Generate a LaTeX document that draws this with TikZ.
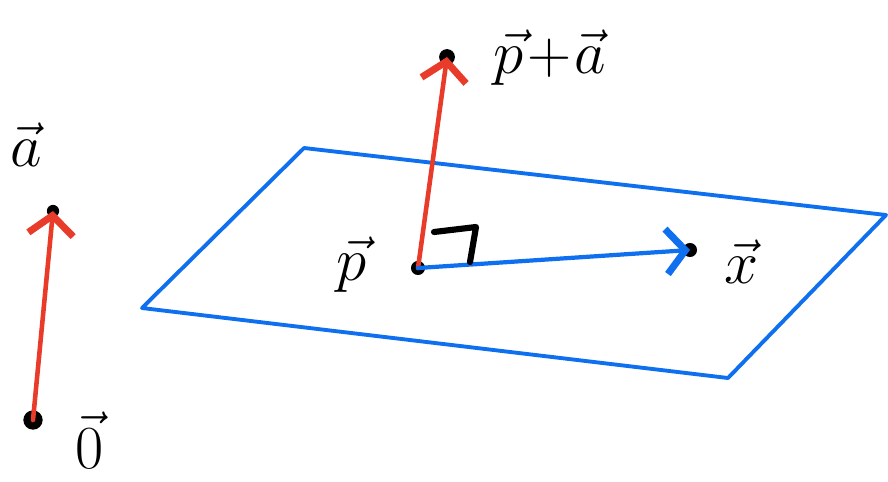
\documentclass[tikz,border=0pt]{standalone}
\usetikzlibrary{arrows.meta}
\definecolor{vred}{RGB}{233,59,42}
\definecolor{vblue}{RGB}{14,112,238}
\begin{document}
\begin{tikzpicture}[x=0.02cm,y=-0.02cm,
  dot/.style={circle,fill=black,inner sep=0pt,minimum size=11pt},
  lbl/.style={font=\Huge,scale=1.4,inner sep=1pt},
  redvec/.style={draw=vred,line width=2.6pt,line cap=round,-{Straight Barb[length=3.8mm,width=9mm,line width=4pt]}},
  bluevec/.style={draw=vblue,line width=2.4pt,line cap=round,-{Straight Barb[length=3.8mm,width=9mm,line width=4pt]}},
  plane/.style={draw=vblue,line width=2.2pt,line join=round}]
\useasboundingbox (0,0) rectangle (888,481);
% plane
\coordinate (c1) at (304,148);
\coordinate (c2) at (886,215);
\coordinate (c3) at (728,378);
\coordinate (c4) at (142,308);
\draw[plane] (c1) -- (c2) -- (c3) -- (c4) -- cycle;
% points
\node[dot] (o) at (33,420) {};
\node[dot,minimum size=7pt] (a) at (53,211) {};
\node[dot,minimum size=8pt] (p) at (418,268) {};
\node[dot,minimum size=9pt] (pa) at (447,57) {};
\node[dot,minimum size=8pt] (x) at (690,250) {};
% vectors
\draw[redvec] (o.center) -- (a.center);
\draw[redvec] (p.center) -- (pa.center);
\draw[bluevec] (p.center) -- (x.center);
% right angle mark
\coordinate (r1) at (434,232);
\coordinate (r2) at (476,227);
\coordinate (r3) at (470,262);
\draw[line width=3.5pt,line cap=round,line join=round] (r1) -- (r2) -- (r3);
% labels
\node[lbl] (la) at (26,145) {$\vec{a}$};
\node[lbl] (l0) at (90,440) {$\vec{0}$};
\node[lbl] (lp) at (352,265) {$\vec{p}$};
\node[lbl] (lpa) at (550,58) {$\vec{p}\!+\!\vec{a}$};
\node[lbl] (lx) at (742,262) {$\vec{x}$};
\end{tikzpicture}
\end{document}
